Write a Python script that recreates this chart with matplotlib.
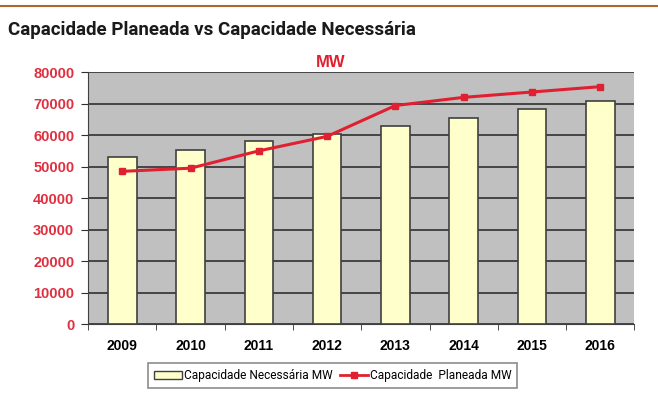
import numpy as np
import matplotlib
matplotlib.use("Agg")
import matplotlib.pyplot as plt
from matplotlib.lines import Line2D
from matplotlib.patches import Patch

years = ["2009", "2010", "2011", "2012", "2013", "2014", "2015", "2016"]
necessaria = [53200, 55400, 58000, 60500, 63000, 65500, 68200, 71000]
planeada = [48500, 49500, 55000, 59600, 69400, 72000, 73700, 75400]

fig = plt.figure(figsize=(6.58, 4.01), dpi=100)
fig.patch.set_facecolor("white")

# brown line at the top of the box
fig.add_artist(Line2D([0, 1], [0.985, 0.985], color="#b0662a", lw=1.5))

fig.text(0.012, 0.925, "Capacidade Planeada vs Capacidade Necessária",
         fontsize=13.5, fontweight="bold", family="Roboto", color="#1a1a1a",
         va="center", ha="left")

ax = fig.add_axes([0.134, 0.192, 0.83, 0.628])
ax.set_facecolor("#c0c0c0")
x = np.arange(len(years))

ax.bar(x, necessaria, width=0.42, color="#ffffcc", edgecolor="#404040",
       lw=1.2, zorder=3, label="Capacidade Necessária MW")
ax.plot(x, planeada, color="#e02030", lw=2.2, marker="s", ms=4.5,
        zorder=4, label="Capacidade  Planeada MW")

ax.set_xlim(-0.5, len(years) - 0.5)
ax.set_ylim(0, 80000)
ax.set_yticks(range(0, 80001, 10000))
ax.yaxis.grid(True, color="#303030", lw=1.2, zorder=1)
ax.set_axisbelow(True)

ax.set_xticks(x)
ax.set_xticklabels(years, fontsize=10, fontweight="bold",
                   family="Liberation Sans")
ax.set_xticks(np.arange(-0.5, len(years)), minor=True)
ax.tick_params(axis="x", which="major", length=0, pad=11)
ax.tick_params(axis="x", which="minor", length=4, color="#303030")
ax.tick_params(axis="y", length=5, color="#303030", labelsize=10.5,
               labelcolor="#e03040", pad=5)
for lab in ax.get_yticklabels():
    lab.set_fontweight("bold")
    lab.set_family("Liberation Sans")

for s in ["top", "right"]:
    ax.spines[s].set_visible(False)
ax.spines["left"].set_color("#404040")
ax.spines["bottom"].set_color("#404040")

fig.text(0.502, 0.845, "MW", color="#e02030", fontsize=12, fontweight="bold",
         family="Liberation Sans", ha="center", va="center")

handles = [Patch(facecolor="#ffffcc", edgecolor="#404040", label="Capacidade Necessária MW"),
           Line2D([], [], color="#e02030", lw=2, marker="s", ms=4,
                  label="Capacidade  Planeada MW")]
leg = fig.legend(handles=handles, loc="center", bbox_to_anchor=(0.506, 0.063),
                 ncol=2, frameon=True, fancybox=False, shadow=False,
                 prop={"family": "Roboto", "size": 8.6},
                 handlelength=2.3, handletextpad=0.2, columnspacing=0.6,
                 borderpad=0.5)
leg.get_frame().set_edgecolor("#707070")
leg.get_frame().set_linewidth(1.2)

fig.savefig("out.png", dpi=100)
